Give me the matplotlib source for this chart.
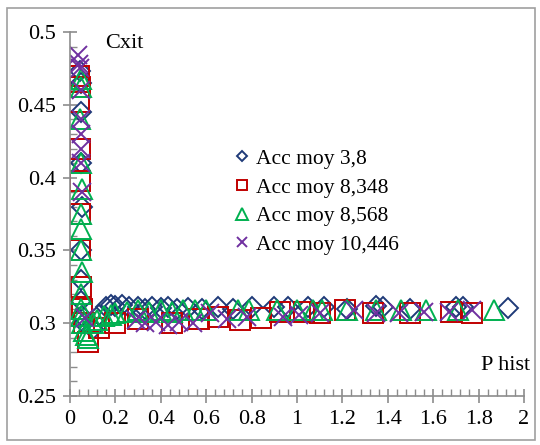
import matplotlib.pyplot as plt
from matplotlib.patches import Rectangle
from matplotlib.ticker import MultipleLocator, FuncFormatter

# Acc moy 3,8 (losanges)
x_38 = [0.045, 0.048, 0.05, 0.05, 0.052, 0.05, 0.048, 0.05, 0.052, 0.06,
        0.1, 0.13, 0.16, 0.18, 0.2, 0.23, 0.26, 0.3, 0.33, 0.36, 0.4, 0.43,
        0.47, 0.52, 0.58, 0.65, 0.72, 0.8, 0.9, 0.96, 1.05, 1.12, 1.22,
        1.35, 1.38, 1.5, 1.7, 1.73, 1.93]
y_38 = [0.473, 0.465, 0.445, 0.41, 0.38, 0.35, 0.33, 0.315, 0.305, 0.3,
        0.296, 0.306, 0.311, 0.3125, 0.312, 0.3125, 0.311, 0.3115, 0.31,
        0.311, 0.3105, 0.311, 0.31, 0.3105, 0.31, 0.311, 0.31, 0.311, 0.311,
        0.3115, 0.311, 0.311, 0.31, 0.312, 0.311, 0.31, 0.3115, 0.311, 0.3105]

# Acc moy 8,348 (carres)
x_8348 = [0.04, 0.045, 0.04, 0.045, 0.042, 0.044, 0.046, 0.05, 0.055, 0.06,
          0.08, 0.13, 0.2, 0.3, 0.45, 0.57, 0.65, 0.75, 0.84, 0.925, 1.03,
          1.1, 1.21, 1.335, 1.5, 1.68, 1.77]
y_8348 = [0.47, 0.462, 0.452, 0.42, 0.398, 0.375, 0.35, 0.325, 0.31, 0.3,
          0.287, 0.297, 0.3, 0.303, 0.3, 0.303, 0.304, 0.302, 0.3035, 0.3077,
          0.308, 0.307, 0.309, 0.307, 0.307, 0.3076, 0.307]

# Acc moy 8,568 (triangles)
x_8568 = [0.05, 0.05, 0.045, 0.05, 0.052, 0.05, 0.048, 0.05, 0.052, 0.05,
          0.048, 0.05, 0.055, 0.06, 0.07, 0.08, 0.1, 0.12, 0.15, 0.18, 0.2,
          0.25, 0.3, 0.35, 0.4, 0.45, 0.5, 0.55, 0.6, 0.74, 0.79, 0.91, 1.0,
          1.07, 1.11, 1.22, 1.35, 1.46, 1.57, 1.71, 1.87]
y_8568 = [0.468, 0.462, 0.44, 0.41, 0.392, 0.375, 0.365, 0.35, 0.335, 0.32,
          0.31, 0.305, 0.3, 0.295, 0.292, 0.29, 0.3, 0.302, 0.305, 0.306,
          0.307, 0.308, 0.309, 0.308, 0.309, 0.308, 0.309, 0.309, 0.309,
          0.309, 0.309, 0.309, 0.309, 0.309, 0.309, 0.309, 0.309, 0.309,
          0.309, 0.309, 0.309]

# Acc moy 10,446 (croix)
x_10446 = [0.035, 0.04, 0.045, 0.05, 0.05, 0.048, 0.05, 0.05, 0.052, 0.066,
           0.29, 0.33, 0.38, 0.43, 0.48, 0.54, 0.617, 0.69, 0.78, 0.94, 1.01,
           1.1, 1.25, 1.35, 1.45, 1.56, 1.67, 1.77]
y_10446 = [0.484, 0.478, 0.475, 0.46, 0.44, 0.43, 0.42, 0.41, 0.39, 0.3035,
           0.302, 0.3, 0.301, 0.299, 0.301, 0.3, 0.307, 0.303, 0.304, 0.304,
           0.306, 0.307, 0.309, 0.307, 0.307, 0.308, 0.308, 0.309]

plt.rcParams['font.family'] = ['Liberation Serif', 'DejaVu Serif']

fig = plt.figure(figsize=(5.4, 4.45), dpi=100)
ax = fig.add_axes([0.1296, 0.110, 0.8407, 0.818])

# cadre gris autour du graphique
fig.patches.append(Rectangle((0.013, 0.011), 0.978, 0.972, transform=fig.transFigure,
                             fill=False, edgecolor='#a0a0a0', linewidth=1.2))

ax.plot(x_38, y_38, linestyle='none', marker='D', ms=10, mfc='none', mec='#1f3a78',
        mew=1.4, label='Acc moy 3,8')
ax.plot(x_8348, y_8348, linestyle='none', marker='s', ms=14, mfc='none', mec='#c00000',
        mew=1.4, label='Acc moy 8,348')
ax.plot(x_8568, y_8568, linestyle='none', marker='^', ms=15, mfc='none', mec='#00b050',
        mew=1.4, label='Acc moy 8,568')
ax.plot(x_10446, y_10446, linestyle='none', marker='x', ms=13, mec='#7030a0',
        mew=1.4, label='Acc moy 10,446')

ax.set_xlim(0, 2)
ax.set_ylim(0.25, 0.5)
ax.xaxis.set_major_locator(MultipleLocator(0.2))
ax.xaxis.set_minor_locator(MultipleLocator(0.04))
ax.yaxis.set_major_locator(MultipleLocator(0.05))
ax.yaxis.set_minor_locator(MultipleLocator(0.01))
fmt = FuncFormatter(lambda v, p: '%g' % round(v, 3))
ax.xaxis.set_major_formatter(fmt)
ax.yaxis.set_major_formatter(fmt)

for s in ['top', 'right']:
    ax.spines[s].set_visible(False)
for s in ['left', 'bottom']:
    ax.spines[s].set_color('#8c8c8c')
    ax.spines[s].set_linewidth(1.2)
ax.tick_params(which='major', direction='inout', length=10, width=1.2, color='#8c8c8c',
               labelsize=16, pad=5)
ax.tick_params(which='minor', direction='in', length=5, width=1.0, color='#8c8c8c')
ax.set_facecolor('none')

ax.text(0.24, 0.4918, 'Cxit', fontsize=16, ha='center', va='center')
ax.text(1.92, 0.271, 'P hist', fontsize=16, ha='center', va='center')

ax.legend(loc='upper left', bbox_to_anchor=(0.42, 0.685), bbox_transform=fig.transFigure,
          frameon=False, fontsize=15.5, handlelength=0.6, handletextpad=0.35,
          labelspacing=0.4, markerscale=0.55, borderaxespad=0)

fig.savefig('out.png', dpi=100)
plt.close(fig)
